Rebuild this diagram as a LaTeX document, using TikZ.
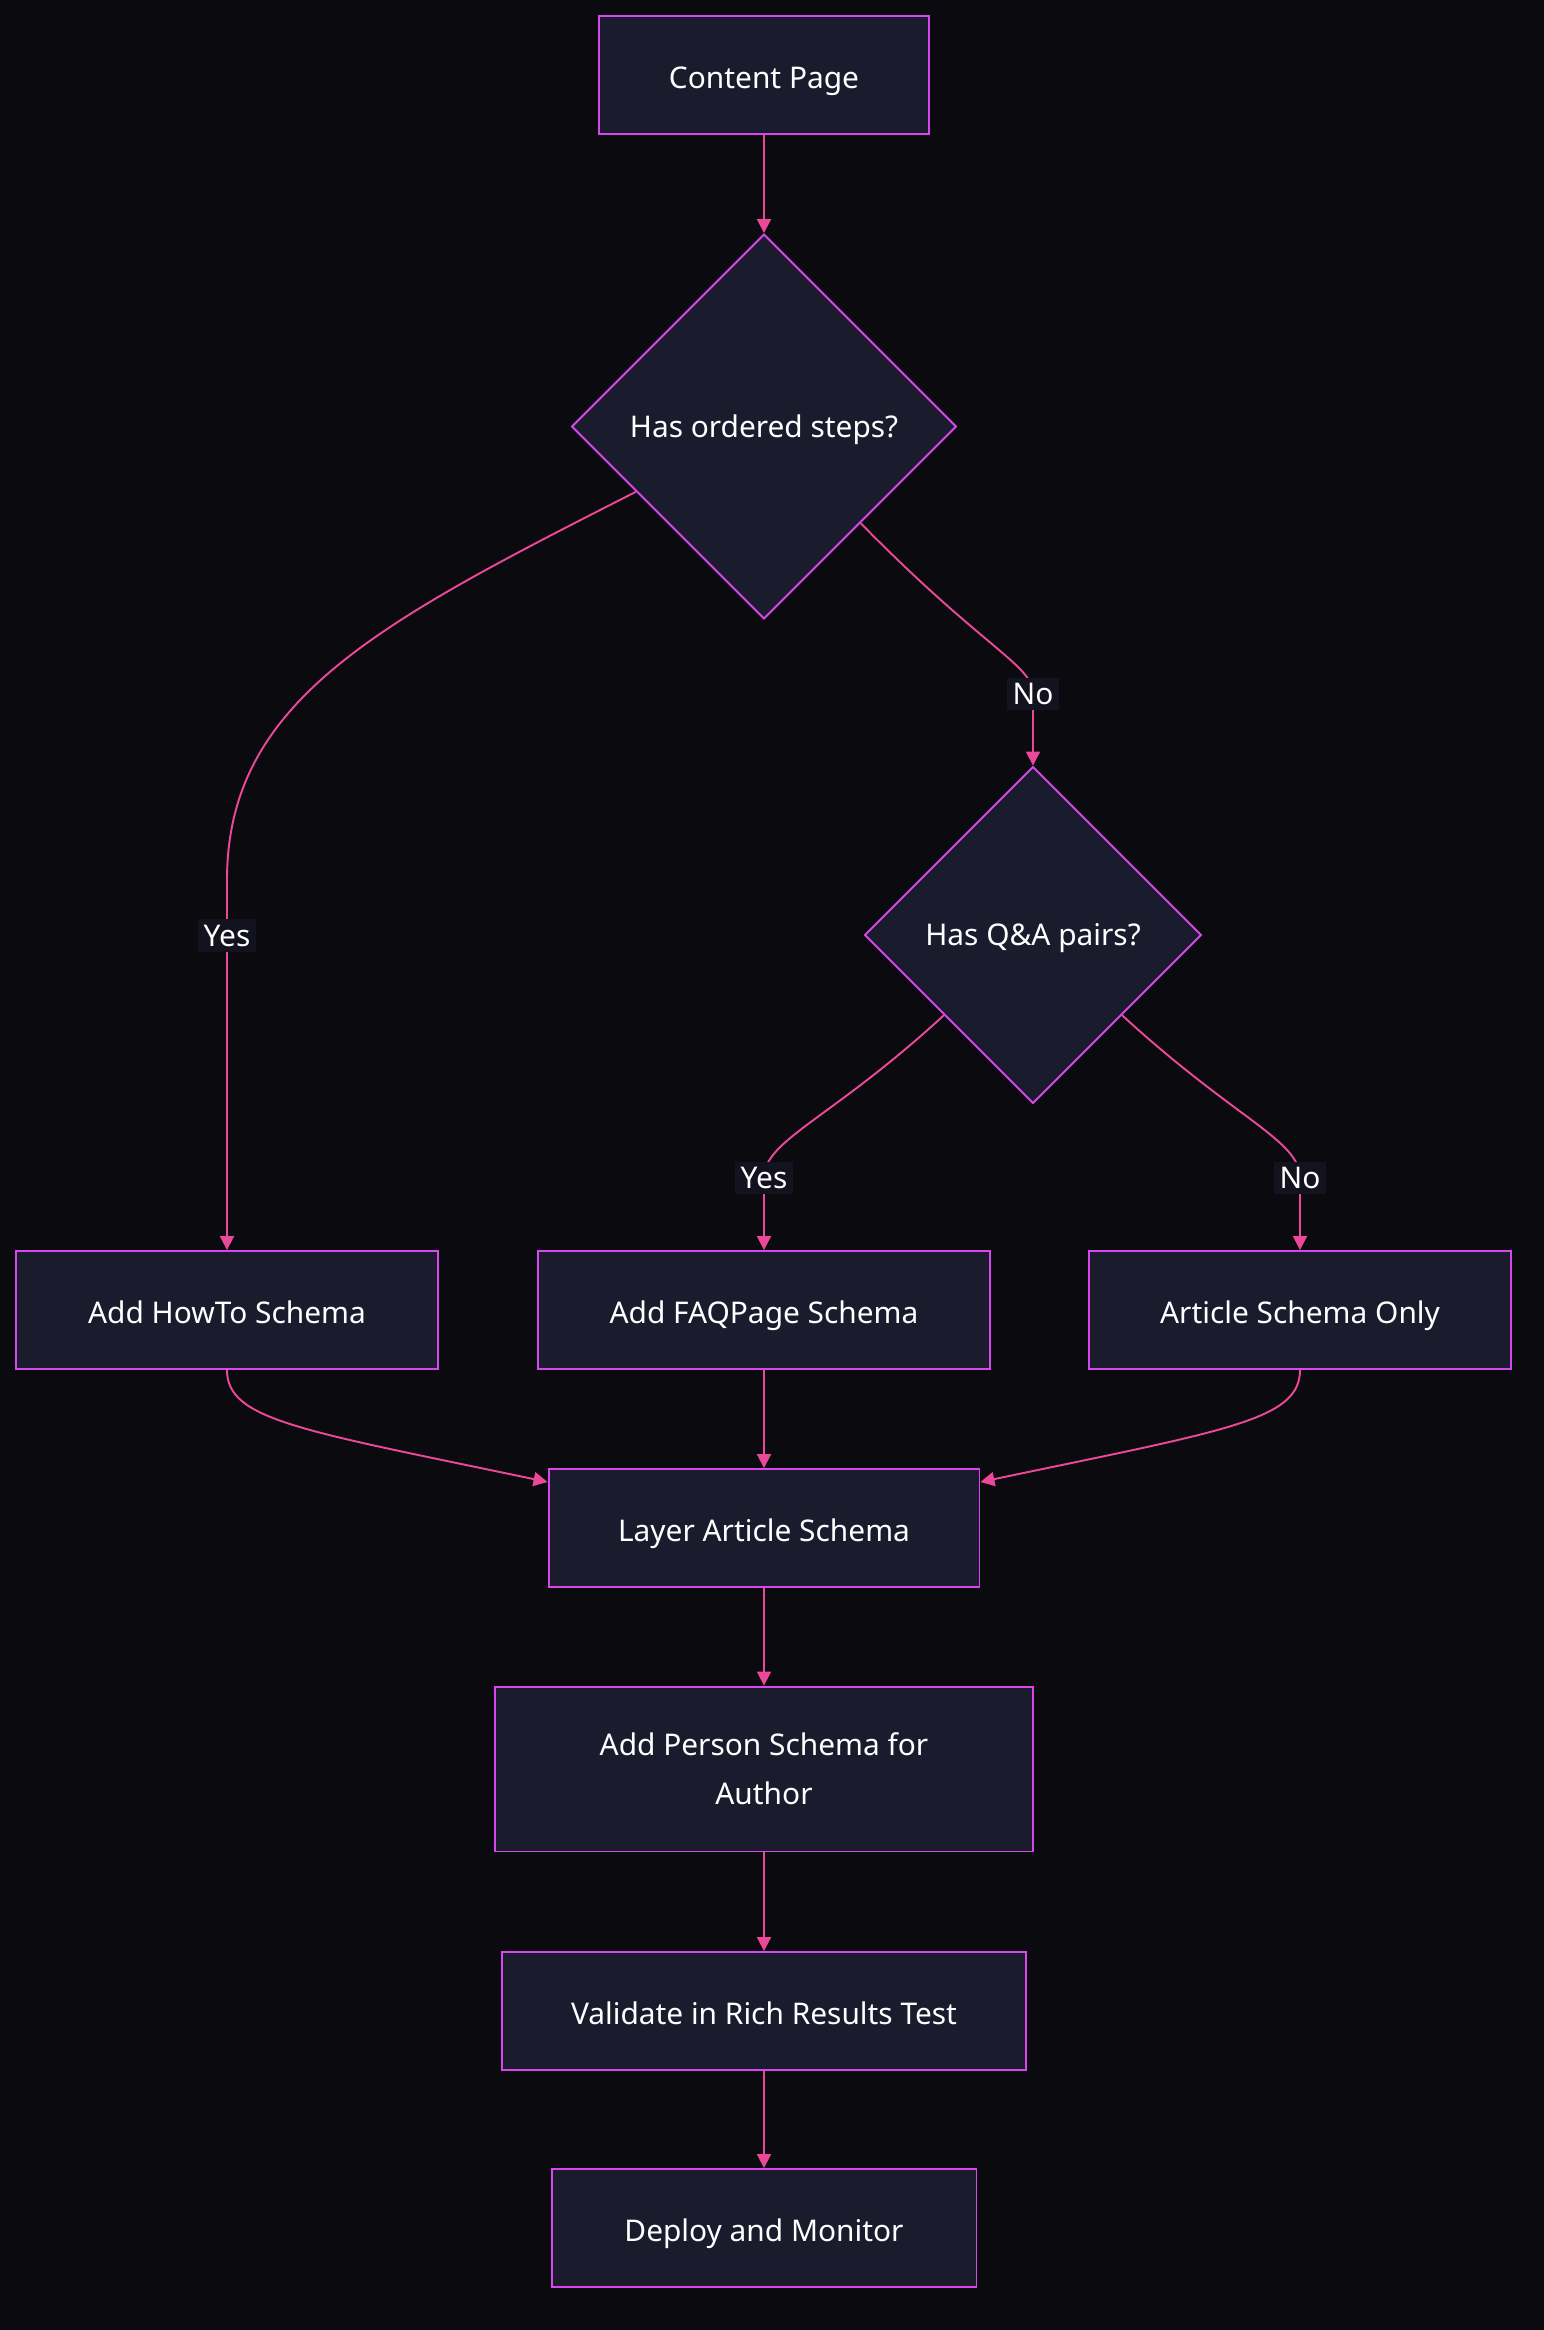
\documentclass[tikz,border=0pt]{standalone}
\usepackage{fontspec}
\setmainfont{Noto Sans}
\usetikzlibrary{shapes.geometric, arrows.meta}
\definecolor{bgdark}{HTML}{0A0A0F}
\definecolor{nodefill}{HTML}{1B1B2E}
\definecolor{nodeedge}{HTML}{D946EF}
\definecolor{flowpink}{HTML}{EC4899}
\definecolor{tagfill}{HTML}{13131F}

\begin{document}
\begin{tikzpicture}[x = 0.02cm, y = 0.02cm,
  box/.style = {draw = nodeedge, fill = nodefill, line width = 1.1pt, text = white, minimum height = 2.36cm, text height = 15.6pt, text depth = 0.6pt, font = \fontsize{17}{28}\selectfont},
  choice/.style = {diamond, aspect = 1, draw = nodeedge, fill = nodefill, line width = 1.1pt, text = white, inner sep = 0pt, text height = 13pt, text depth = 0.8pt, font = \fontsize{17}{28}\selectfont},
  flow/.style = {draw = flowpink, line width = 1.1pt, -{Triangle[length = 8pt, width = 8pt]}},
  tag/.style = {fill = tagfill, text = white, inner sep = 3pt, font = \fontsize{17}{28}\selectfont}]
\fill[bgdark] (0,0) rectangle (1544,-2330);
\useasboundingbox (0,0) rectangle (1544,-2330);

\node[box, minimum width = 6.6cm] (page) at (764,-75) {Content Page};
\node[choice, minimum width = 7.7cm, minimum height = 7.7cm] (steps) at (764,-426.5) {Has ordered steps?};
\node[choice, minimum width = 6.74cm, minimum height = 6.74cm] (qa) at (1033,-935) {Has Q\&A pairs?};
\node[box, minimum width = 8.44cm] (howto) at (227,-1310) {Add HowTo Schema};
\node[box, minimum width = 9.04cm] (faq) at (764,-1310) {Add FAQPage Schema};
\node[box, minimum width = 8.44cm] (article) at (1300,-1310) {Article Schema Only};
\node[box, minimum width = 8.62cm] (layer) at (764,-1528) {Layer Article Schema};
\node[box, minimum width = 10.76cm, minimum height = 3.3cm, align = center, text height = , text depth = ] (person) at (764,-1769) {Add Person Schema for\\Author};
\node[box, minimum width = 10.5cm] (validate) at (764,-2011) {Validate in Rich Results Test};
\node[box, minimum width = 8.5cm] (deploy) at (764,-2228) {Deploy and Monitor};

\draw[flow] (page) -- (steps);
\draw[flow] (steps.207) .. controls (380,-622) and (227,-700) .. (227,-880) -- node[tag, pos = 0.15] {Yes} (howto.north);
\draw[flow] (steps.-45) .. controls (985,-650) and (1033,-665) .. (1033,-694) node[tag] {No} -- (qa.north);
\draw[flow] (qa.222) .. controls (830,-1120) and (764,-1140) .. (764,-1178) node[tag] {Yes} -- (faq.north);
\draw[flow] (qa.318) .. controls (1236,-1120) and (1300,-1140) .. (1300,-1178) node[tag] {No} -- (article.north);
\draw[flow] (howto.south) .. controls (227,-1420) and (300,-1430) .. (layer.168);
\draw[flow] (faq) -- (layer);
\draw[flow] (article.south) .. controls (1300,-1420) and (1228,-1430) .. (layer.12);
\draw[flow] (layer) -- (person);
\draw[flow] (person) -- (validate);
\draw[flow] (validate) -- (deploy);
\end{tikzpicture}
\end{document}
